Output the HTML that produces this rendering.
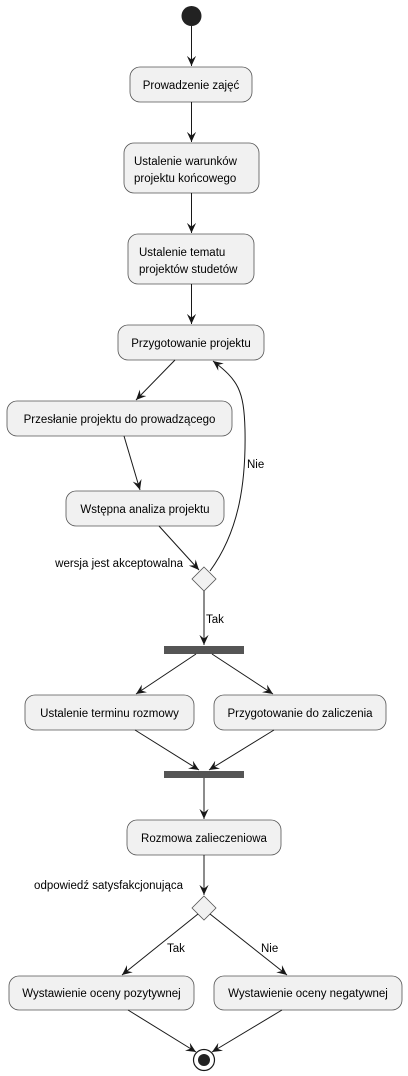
<!DOCTYPE html>
<html><head><meta charset="utf-8"><style>
html,body{margin:0;padding:0;background:#fff;}
svg{display:block;}
text{font-family:"Liberation Sans",sans-serif;font-size:11.5px;fill:#000;}
.b{fill:#f1f1f1;stroke:#555;stroke-width:0.8;}
.l{stroke:#181818;stroke-width:1;fill:none;}
</style></head><body>
<svg width="408" height="1076" viewBox="0 0 408 1076" xmlns="http://www.w3.org/2000/svg">
<defs><marker id="a" viewBox="0 0 12 12" refX="11" refY="6" markerWidth="11" markerHeight="11" orient="auto" markerUnits="userSpaceOnUse">
<path d="M0,1 L11,6 L0,11 L4,6 Z" fill="#181818"/></marker></defs>
<circle cx="191.5" cy="16" r="10" fill="#222"/>
<line class="l" x1="191.5" y1="26" x2="191.5" y2="66" marker-end="url(#a)"/>
<rect class="b" x="130" y="67" width="122" height="35" rx="10"/>
<text x="191" y="89" text-anchor="middle">Prowadzenie zajęć</text>
<line class="l" x1="191.5" y1="102" x2="191.5" y2="142" marker-end="url(#a)"/>
<rect class="b" x="124" y="143" width="135" height="50" rx="10"/>
<text x="134" y="165">Ustalenie warunków</text>
<text x="134" y="182">projektu końcowego</text>
<line class="l" x1="191.5" y1="193" x2="191.5" y2="233" marker-end="url(#a)"/>
<rect class="b" x="128" y="234" width="126" height="50" rx="10"/>
<text x="139" y="256">Ustalenie tematu</text>
<text x="139" y="273">projektów studetów</text>
<line class="l" x1="191.5" y1="284" x2="191.5" y2="324" marker-end="url(#a)"/>
<rect class="b" x="118" y="325" width="146" height="35" rx="10"/>
<text x="191" y="347" text-anchor="middle">Przygotowanie projektu</text>
<line class="l" x1="175" y1="360" x2="136" y2="400" marker-end="url(#a)"/>
<rect class="b" x="7" y="401" width="225" height="35" rx="10"/>
<text x="119.5" y="423" text-anchor="middle">Przesłanie projektu do prowadzącego</text>
<line class="l" x1="124" y1="436" x2="140" y2="490" marker-end="url(#a)"/>
<rect class="b" x="66" y="491" width="158" height="35" rx="10"/>
<text x="145" y="513" text-anchor="middle">Wstępna analiza projektu</text>
<line class="l" x1="159" y1="526" x2="199" y2="570" marker-end="url(#a)"/>
<polygon class="b" points="204,567 216,579 204,591 192,579"/>
<text x="183" y="567" text-anchor="end">wersja jest akceptowalna</text>
<path class="l" d="M210,571 C240,530 246,480 245,430 C244,390 238,380 213,361" marker-end="url(#a)"/>
<text x="247" y="468">Nie</text>
<line class="l" x1="204" y1="591" x2="204" y2="645" marker-end="url(#a)"/>
<text x="206" y="623">Tak</text>
<rect x="164" y="646" width="80" height="8" fill="#555"/>
<line class="l" x1="196" y1="654" x2="136" y2="694" marker-end="url(#a)"/>
<line class="l" x1="212" y1="654" x2="273" y2="694" marker-end="url(#a)"/>
<rect class="b" x="25" y="695" width="169" height="35" rx="10"/>
<text x="109.5" y="717" text-anchor="middle">Ustalenie terminu rozmowy</text>
<rect class="b" x="214" y="695" width="172" height="35" rx="10"/>
<text x="300" y="717" text-anchor="middle">Przygotowanie do zaliczenia</text>
<line class="l" x1="135" y1="730" x2="199" y2="770" marker-end="url(#a)"/>
<line class="l" x1="274" y1="730" x2="209" y2="770" marker-end="url(#a)"/>
<rect x="164" y="771" width="80" height="7" fill="#555"/>
<line class="l" x1="204" y1="778" x2="204" y2="819" marker-end="url(#a)"/>
<rect class="b" x="127" y="820" width="154" height="35" rx="10"/>
<text x="204" y="842" text-anchor="middle">Rozmowa zalieczeniowa</text>
<line class="l" x1="204" y1="855" x2="204" y2="895" marker-end="url(#a)"/>
<text x="183" y="889" text-anchor="end">odpowiedź satysfakcjonująca</text>
<polygon class="b" points="204,896 216,908 204,920 192,908"/>
<line class="l" x1="198" y1="914" x2="122" y2="975" marker-end="url(#a)"/>
<line class="l" x1="210" y1="914" x2="287" y2="975" marker-end="url(#a)"/>
<text x="167" y="952">Tak</text>
<text x="261" y="952">Nie</text>
<rect class="b" x="9" y="976" width="185" height="34" rx="10"/>
<text x="101.5" y="997" text-anchor="middle">Wystawienie oceny pozytywnej</text>
<rect class="b" x="214" y="976" width="188" height="34" rx="10"/>
<text x="308" y="997" text-anchor="middle">Wystawienie oceny negatywnej</text>
<line class="l" x1="128" y1="1010" x2="196" y2="1052" marker-end="url(#a)"/>
<line class="l" x1="282" y1="1010" x2="212" y2="1052" marker-end="url(#a)"/>
<circle cx="204" cy="1060" r="10.5" fill="#fff" stroke="#181818" stroke-width="1.2"/>
<circle cx="204" cy="1060" r="6" fill="#222"/>
</svg>
</body></html>
